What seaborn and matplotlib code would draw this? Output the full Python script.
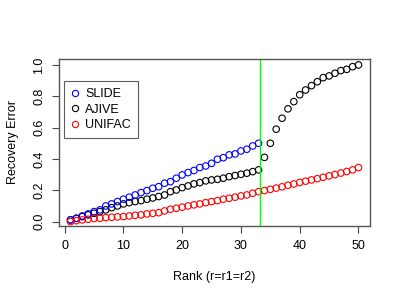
import numpy as np
import pandas as pd
import matplotlib
matplotlib.use("Agg")
import matplotlib.pyplot as plt
from matplotlib.lines import Line2D
import seaborn as sns

rank_all = list(range(1, 51))
rank_slide = list(range(1, 34))

slide = [0.011, 0.021, 0.036, 0.049, 0.064, 0.075, 0.100, 0.113, 0.128, 0.143,
         0.156, 0.170, 0.185, 0.198, 0.213, 0.223, 0.245, 0.255, 0.277, 0.298,
         0.313, 0.326, 0.345, 0.355, 0.372, 0.398, 0.408, 0.426, 0.432, 0.451,
         0.462, 0.483, 0.500]
ajive = [0.011, 0.021, 0.032, 0.043, 0.053, 0.064, 0.075, 0.089, 0.100, 0.113,
         0.121, 0.128, 0.134, 0.143, 0.151, 0.160, 0.170, 0.191, 0.202, 0.217,
         0.228, 0.241, 0.249, 0.260, 0.266, 0.270, 0.277, 0.287, 0.294, 0.302,
         0.309, 0.319, 0.330, 0.410, 0.500, 0.590, 0.660, 0.720, 0.766, 0.810,
         0.840, 0.868, 0.893, 0.919, 0.930, 0.947, 0.964, 0.972, 0.989, 1.000]
unifac = [0.000, 0.006, 0.011, 0.015, 0.020, 0.021, 0.026, 0.028, 0.030, 0.032,
          0.036, 0.040, 0.043, 0.049, 0.053, 0.057, 0.068, 0.079, 0.085, 0.092,
          0.100, 0.107, 0.113, 0.121, 0.128, 0.134, 0.143, 0.149, 0.156, 0.164,
          0.170, 0.181, 0.191, 0.198, 0.206, 0.214, 0.222, 0.232, 0.240, 0.250,
          0.258, 0.266, 0.274, 0.283, 0.292, 0.300, 0.310, 0.320, 0.330, 0.345]
methods = ["SLIDE", "AJIVE", "UNIFAC"]
colors = {"SLIDE": "#0000FF", "AJIVE": "#000000", "UNIFAC": "#FF0000"}
vline_x = 33.3
x_ticks = [0, 10, 20, 30, 40, 50]
y_ticks = [0.0, 0.2, 0.4, 0.6, 0.8, 1.0]

df = pd.concat([
    pd.DataFrame({"rank": rank_all, "err": ajive, "method": "AJIVE"}),
    pd.DataFrame({"rank": rank_slide, "err": slide, "method": "SLIDE"}),
    pd.DataFrame({"rank": rank_all, "err": unifac, "method": "UNIFAC"}),
], ignore_index=True)

sns.set_style("white")
plt.rcParams["font.family"] = ["Liberation Sans", "DejaVu Sans"]
plt.rcParams["font.size"] = 9
plt.rcParams["text.color"] = "black"
plt.rcParams["axes.labelcolor"] = "black"
plt.rcParams["xtick.color"] = "black"
plt.rcParams["ytick.color"] = "black"

fig = plt.figure(figsize=(4, 3), dpi=100)
ax = fig.add_axes([0.1475, 0.2467, 0.7775, 0.5566])

for m in ["AJIVE", "SLIDE", "UNIFAC"]:
    sub = df[df["method"] == m]
    sns.scatterplot(data=sub, x="rank", y="err", ax=ax, marker="o", s=22,
                    facecolors="none", edgecolor=colors[m], linewidth=0.8,
                    legend=False)

ax.axvline(vline_x, color="#00FF00", lw=1.0)

ax.set_xlim(-0.96, 51.96)
ax.set_ylim(-0.028, 1.038)
ax.set_xticks(x_ticks)
ax.set_yticks(y_ticks)
ax.set_xticklabels([str(t) for t in x_ticks])
ax.set_yticklabels([f"{t:.1f}" for t in y_ticks], rotation=90, va="center")
ax.tick_params(axis="both", direction="out", length=5, width=0.8,
               color="#444444", labelcolor="black", labelsize=9, pad=5,
               bottom=True, left=True)
for sp in ax.spines.values():
    sp.set_color("#555555")
    sp.set_linewidth(1.0)

ax.set_xlabel("Rank (r=r1=r2)", fontsize=9, labelpad=14, color="black")
ax.set_ylabel("Recovery Error", fontsize=9, labelpad=10, color="black")

handles = [Line2D([], [], marker="o", linestyle="none", markersize=4.5,
                  markerfacecolor="none", markeredgecolor=colors[m],
                  markeredgewidth=0.8) for m in methods]
leg = ax.legend(handles, methods, loc="upper left",
                bbox_to_anchor=(0.017, 0.868), borderaxespad=0,
                frameon=True, fancybox=False, fontsize=9,
                handlelength=0.6, handletextpad=0.5, labelspacing=0.3,
                borderpad=0.55)
leg.get_frame().set_edgecolor("#333333")
leg.get_frame().set_linewidth(0.8)
for t in leg.get_texts():
    t.set_color("black")

fig.savefig("out.png", dpi=100)
